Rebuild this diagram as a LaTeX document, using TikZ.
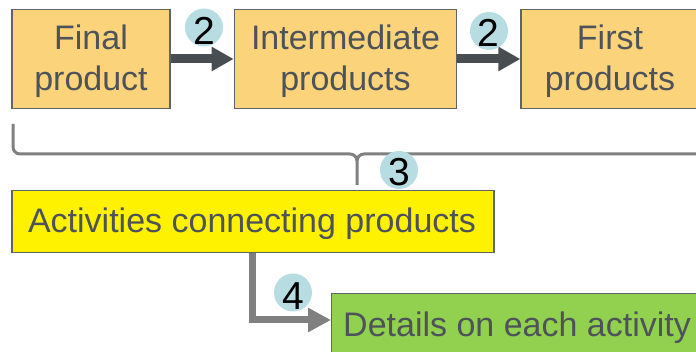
\documentclass[tikz,border=0pt]{standalone}
\usepackage{fontspec}
\setmainfont{Liberation Sans}
\usetikzlibrary{arrows.meta}
\definecolor{boxorange}{RGB}{251,211,122}
\definecolor{boxedge}{RGB}{95,100,105}
\definecolor{txtgray}{RGB}{77,83,89}
\definecolor{arrowdark}{RGB}{72,77,82}
\definecolor{bracegray}{RGB}{128,128,128}
\definecolor{bubble}{RGB}{183,221,227}
\definecolor{leafgreen}{RGB}{146,208,80}
\tikzset{
  prodbox/.style={draw=boxedge, line width=1.2pt, fill=boxorange, inner sep=0pt, minimum height=99pt},
  flatbox/.style={draw=boxedge, line width=1.2pt, inner sep=0pt},
  boxtext/.style={text=txtgray, align=center, inner sep=0pt, font=\fontsize{34}{41}\selectfont},
  darrow/.style={draw=arrowdark, line width=9pt, -{Triangle[length=22pt,width=23pt]}},
  garrow/.style={draw=bracegray, line width=7pt, -{Triangle[length=23pt,width=23pt]}},
  bracestyle/.style={draw=bracegray, line width=3pt},
  bubblecircle/.style={circle, fill=bubble, minimum size=38pt, inner sep=0pt},
  numtext/.style={text=black, inner sep=0pt, font=\fontsize{39}{39}\selectfont}
}
\begin{document}
\begin{tikzpicture}[x=1pt,y=-1pt]
\useasboundingbox (0,0) rectangle (696,352);
\begin{scope}
\clip (0,0) rectangle (696,352);
% product boxes
\node[prodbox, minimum width=158pt] (fin) at (91,59) {};
\node[prodbox, minimum width=222.5pt] (int) at (345.5,59) {};
\node[prodbox, minimum width=180pt] (fir) at (611,59) {};
\node[boxtext] (fint) at ([yshift=-2.5pt]fin.center) {Final\\product};
\node[boxtext] (intt) at ([yshift=-2.5pt]int.center) {Intermediate\\products};
\node[boxtext] (firt) at ([yshift=-2.5pt,xshift=-1pt]fir.center) {First\\products};
% arrows
\draw[darrow] (fin.east) -- (int.west);
\draw[darrow] (int.east) -- (fir.west);
% bubbles 2
\node[bubblecircle] (b2a) at (204,27.5) {};
\node[numtext] (n2a) at (204,31) {2};
\node[bubblecircle] (b2b) at (489,31) {};
\node[numtext] (n2b) at (488,32.5) {2};
% brace
\coordinate (brL) at (13,124);
\coordinate (brM) at (357,185);
\coordinate (brR) at (700,154);
\draw[bracestyle] (brL) -- (13,147) to[out=-90,in=180] (20,154) -- (350,154)
   to[out=0,in=90] (357,161) -- (brM);
\draw[bracestyle] (357,161) to[out=90,in=180] (364,154) -- (brR);
% yellow box
\node[flatbox, fill=yellow, minimum width=482pt, minimum height=62.5pt] (act) at (253,221.5) {};
\node[boxtext, anchor=base] (actt) at (252,232.5) {Activities connecting products};
% bubble 3
\node[bubblecircle] (b3) at (399,170) {};
\node[numtext] (n3) at (399,172.5) {3};
% green box
\node[flatbox, fill=leafgreen, minimum width=380pt, minimum height=76pt, anchor=north west] (det) at (331,293) {};
\node[boxtext, anchor=base west] (dett) at (343,336.5) {Details on each activity};
% connector 4
\coordinate (c4a) at (252,253);
\coordinate (c4b) at (331,320);
\draw[garrow] (c4a) |- (c4b);
\node[bubblecircle] (b4) at (293,292.5) {};
\node[numtext] (n4) at (293,296) {4};
\end{scope}
\end{tikzpicture}
\end{document}
